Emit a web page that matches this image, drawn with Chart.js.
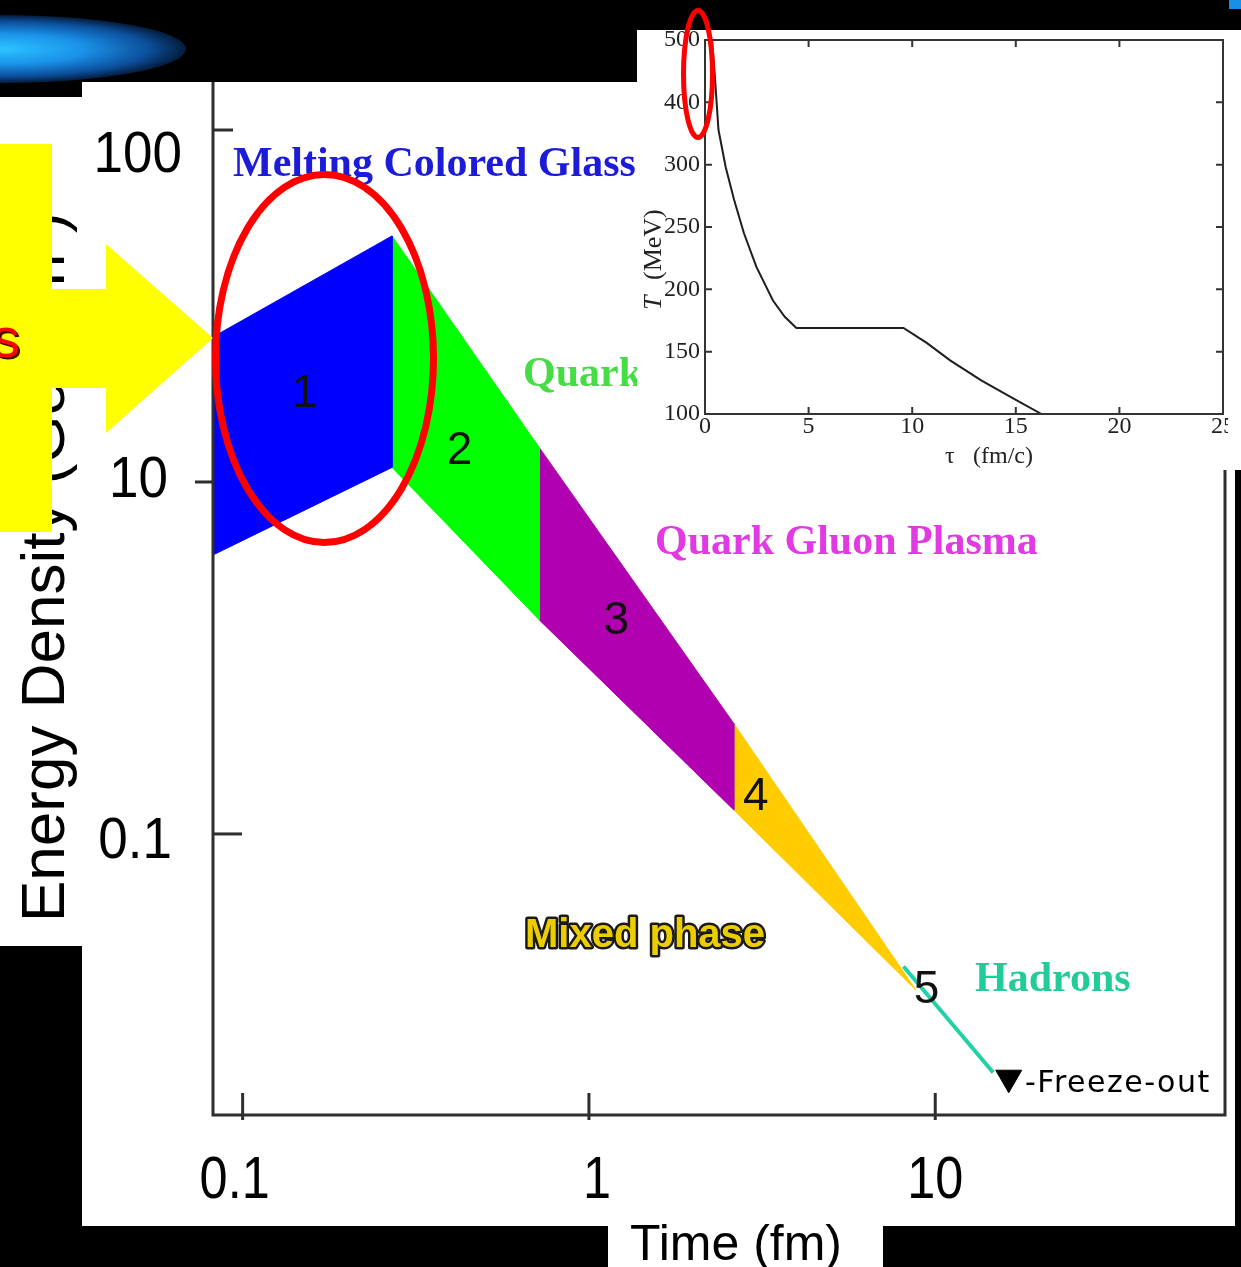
<!DOCTYPE html>
<html>
<head>
<meta charset="utf-8">
<title>Energy density evolution</title>
<script src="https://cdn.jsdelivr.net/npm/chart.js@4.4.1/dist/chart.umd.min.js"></script>
<style>
  html, body { margin: 0; padding: 0; background: #000; width: 1241px; height: 1267px; overflow: hidden; }
  .panel { position: absolute; background: #fff; }
  #main { position: absolute; left: 0; top: 0; }
  #insetBox { position: absolute; left: 637px; top: 30px; width: 604px; height: 440px; background: #fff; }
  #inset { position: absolute; left: 0; top: 0; }
  svg { position: absolute; left: 0; top: 0; pointer-events: none; }
</style>
</head>
<body>
<svg width="1241" height="1267">
  <defs>
    <radialGradient id="glow" cx="0.5" cy="0.5" r="0.5">
      <stop offset="0" stop-color="#2cc4ff"/>
      <stop offset="0.45" stop-color="#1a92e8"/>
      <stop offset="0.8" stop-color="#0c4f9c"/>
      <stop offset="1" stop-color="#041c3c"/>
    </radialGradient>
  </defs>
  <ellipse cx="0" cy="49" rx="186" ry="34" fill="url(#glow)"/>
  <rect x="1229" y="0" width="12" height="9" fill="#1a8fe6"/>
</svg>
<div class="panel" style="left:82px;top:82px;width:1153px;height:1144px"></div>
<div class="panel" style="left:0;top:97px;width:82px;height:849px"></div>
<div class="panel" style="left:608px;top:1226px;width:275px;height:41px"></div>
<canvas id="main" width="1241" height="1267"></canvas>
<div id="insetBox"><canvas id="inset" width="591" height="440"></canvas></div>
<svg width="1241" height="1267">
  <polygon points="0,144 52,144 52,289 106,289 106,244 213,338 106,433 106,388 52,388 52,532 0,532" fill="#ffff00"/>
  <text x="22" y="359" text-anchor="end" font-family="Liberation Sans, Arial, sans-serif" font-size="56" fill="#3a0000">s</text>
  <text x="20" y="357" text-anchor="end" font-family="Liberation Sans, Arial, sans-serif" font-size="56" fill="#ff0000">s</text>
  <ellipse cx="324.5" cy="358.5" rx="109" ry="184" fill="none" stroke="#ff0000" stroke-width="7"/>
  <ellipse cx="698" cy="74" rx="14.5" ry="63.5" fill="none" stroke="#ff0000" stroke-width="5"/>
</svg>
<script>
// ---- Main plot: energy density vs time (log-log) ----
// Band edges at each phase boundary (time in fm)
const phaseLabels  = ['1', '2', '3', '4'];
const boundaryTime = [0.082, 0.27, 0.72, 2.62, 8.8];
const bandUpper    = [25.8, 50, 12.5, 2.06, 0.36];
const bandLower    = [6.2, 11, 4.05, 1.17, 0.36];
const phaseColors  = ['#0000ff', '#00ff00', '#b000b0', '#ffcc00'];

// Hadron gas stage and freeze-out point
const hadronTime    = [8.1, 14.7];
const hadronDensity = [0.42, 0.21];
const freezeTime    = [16.3];
const freezeDensity = [0.203];

// Stage numbers inside the bands
const stageNumbers = ['1', '2', '3', '4', '5'];
const stageTime    = [0.151, 0.423, 1.20, 3.035, 9.44];
const stageDensity = [17.7, 12.2, 4.03, 1.27, 0.36];

// Axis ticks
const timeTicks         = [0.1, 1, 10];
const timeTickLabels    = ['0.1', '1', '10'];
const densityTicks      = [100, 10, 1];
const densityTickLabels = ['100', '10', '0.1'];

// ---- Inset: temperature vs proper time ----
const tau  = [0.34, 0.48, 0.65, 1.0, 1.4, 1.88, 2.48, 3.28, 3.85, 4.41, 9.58, 10.7, 11.83, 13.33, 14.83, 16.24];
const temp = [400, 370, 328, 298, 272, 245, 218, 191, 178, 169, 169, 157, 143, 127, 113, 100];
const tauTicks       = [0, 5, 10, 15, 20, 25];
const tauTickLabels  = ['0', '5', '10', '15', '20', '25'];
const tempTicks      = [100, 150, 200, 250, 300, 350, 400];
const tempTickLabels = ['100', '150', '200', '250', '300', '400', '500'];

const SANS = '"Liberation Sans", Arial, Helvetica, sans-serif';
const SERIF = '"Liberation Serif", "Times New Roman", serif';

function bandDataset(i) {
  const pts = [
    { x: boundaryTime[i],     y: bandUpper[i] },
    { x: boundaryTime[i + 1], y: bandUpper[i + 1] },
    { x: boundaryTime[i + 1], y: bandLower[i + 1] },
    { x: boundaryTime[i],     y: bandLower[i] },
    { x: boundaryTime[i],     y: bandUpper[i] }
  ];
  return {
    label: phaseLabels[i],
    data: pts,
    backgroundColor: phaseColors[i],
    borderColor: phaseColors[i],
    borderWidth: 1,
    pointRadius: 0,
    fill: 'shape',
    tension: 0
  };
}

const mainDecor = {
  id: 'mainDecor',
  afterDatasetsDraw(chart) {
    const { ctx, chartArea: a, scales: { x, y } } = chart;
    ctx.save();

    // stage numbers
    ctx.fillStyle = '#111';
    ctx.font = '46px ' + SANS;
    ctx.textAlign = 'center';
    ctx.textBaseline = 'middle';
    stageNumbers.forEach((s, i) => {
      ctx.fillText(s, x.getPixelForValue(stageTime[i]), y.getPixelForValue(stageDensity[i]));
    });

    // frame: left, bottom and right sides
    ctx.strokeStyle = '#2e2e2e';
    ctx.lineWidth = 3;
    ctx.beginPath();
    ctx.moveTo(a.left, a.top);
    ctx.lineTo(a.left, a.bottom);
    ctx.lineTo(a.right, a.bottom);
    ctx.lineTo(a.right, a.top);
    ctx.stroke();

    // tick marks
    const yMarks = [[0, 20], [-18, 0], [0, 29]];
    densityTicks.forEach((v, i) => {
      const py = y.getPixelForValue(v);
      ctx.beginPath();
      ctx.moveTo(a.left + yMarks[i][0], py);
      ctx.lineTo(a.left + yMarks[i][1], py);
      ctx.stroke();
    });
    timeTicks.forEach(v => {
      const px = x.getPixelForValue(v);
      ctx.beginPath();
      ctx.moveTo(px, a.bottom - 22);
      ctx.lineTo(px, a.bottom + 5);
      ctx.stroke();
    });

    // tick labels
    ctx.fillStyle = '#000';
    ctx.textBaseline = 'alphabetic';
    ctx.textAlign = 'right';
    ctx.font = '57px ' + SANS;
    const yLabelRight = [182, 168, 172];
    const yLabelDrop = [42, 15, 24];
    densityTickLabels.forEach((t, i) => {
      ctx.save();
      ctx.translate(yLabelRight[i], y.getPixelForValue(densityTicks[i]) + yLabelDrop[i]);
      ctx.scale(0.93, 1);
      ctx.fillText(t, 0, 0);
      ctx.restore();
    });
    ctx.textAlign = 'center';
    ctx.font = '60px ' + SANS;
    const xLabelShift = [-8, 8, 0];
    timeTickLabels.forEach((t, i) => {
      ctx.save();
      ctx.translate(x.getPixelForValue(timeTicks[i]) + xLabelShift[i], 1198);
      ctx.scale(0.84, 1);
      ctx.fillText(t, 0, 0);
      ctx.restore();
    });

    // axis titles
    ctx.save();
    ctx.translate(64, 922);
    ctx.rotate(-Math.PI / 2);
    ctx.textAlign = 'left';
    ctx.font = '62px ' + SANS;
    ctx.fillText('Energy Density (GeV/fm\u00b3)', 0, 0);
    ctx.restore();
    ctx.textAlign = 'left';
    ctx.font = '50px ' + SANS;
    ctx.fillText('Time (fm)', 630, 1260);

    // phase names
    ctx.font = 'bold 42px ' + SERIF;
    ctx.fillStyle = '#1c1cd8';
    ctx.fillText('Melting Colored Glass', 233, 176);
    ctx.fillStyle = '#44dd44';
    ctx.fillText('Quark', 523, 386);
    ctx.fillStyle = '#e23ae2';
    ctx.fillText('Quark Gluon Plasma', 655, 554);
    ctx.fillStyle = '#22cc99';
    ctx.fillText('Hadrons', 975, 991);

    ctx.font = 'bold 40px ' + SANS;
    ctx.lineJoin = 'round';
    ctx.lineWidth = 5;
    ctx.strokeStyle = '#1a1a1a';
    ctx.strokeText('Mixed phase', 525, 947);
    ctx.fillStyle = '#ecce00';
    ctx.fillText('Mixed phase', 525, 947);

    ctx.fillStyle = '#000';
    ctx.font = '30px "DejaVu Sans", Verdana, sans-serif';
    if ('letterSpacing' in ctx) ctx.letterSpacing = '1.5px';
    ctx.fillText('-Freeze-out', 1025, 1092);
    ctx.restore();
  }
};

new Chart(document.getElementById('main'), {
  type: 'line',
  data: {
    datasets: [
      ...phaseLabels.map((_, i) => bandDataset(i)),
      {
        label: 'Hadrons',
        data: hadronTime.map((t, i) => ({ x: t, y: hadronDensity[i] })),
        borderColor: '#22d0a8',
        borderWidth: 4,
        pointRadius: 0,
        fill: false
      },
      {
        label: 'Freeze-out',
        data: freezeTime.map((t, i) => ({ x: t, y: freezeDensity[i] })),
        showLine: false,
        pointStyle: 'triangle',
        pointRotation: 180,
        pointRadius: 15,
        backgroundColor: '#000',
        borderColor: '#000',
        fill: false
      }
    ]
  },
  options: {
    responsive: false,
    animation: false,
    layout: { padding: { left: 213, right: 14, top: 82, bottom: 152 } },
    plugins: { legend: { display: false }, tooltip: { enabled: false } },
    scales: {
      x: { type: 'logarithmic', min: 0.08212, max: 68.66, display: false },
      y: { type: 'logarithmic', min: 0.15905, max: 136.9, display: false }
    }
  },
  plugins: [mainDecor]
});

const insetDecor = {
  id: 'insetDecor',
  afterDatasetsDraw(chart) {
    const { ctx, chartArea: a, scales: { x, y } } = chart;
    ctx.save();
    ctx.strokeStyle = '#333';
    ctx.lineWidth = 2;
    ctx.strokeRect(a.left, a.top, a.right - a.left, a.bottom - a.top);
    ctx.beginPath();
    tauTicks.forEach(v => {
      const px = x.getPixelForValue(v);
      ctx.moveTo(px, a.bottom); ctx.lineTo(px, a.bottom - 7);
      ctx.moveTo(px, a.top); ctx.lineTo(px, a.top + 7);
    });
    tempTicks.forEach(v => {
      const py = y.getPixelForValue(v);
      ctx.moveTo(a.left, py); ctx.lineTo(a.left + 7, py);
      ctx.moveTo(a.right, py); ctx.lineTo(a.right - 7, py);
    });
    ctx.stroke();

    ctx.fillStyle = '#222';
    ctx.font = '24px ' + SERIF;
    ctx.textAlign = 'center';
    ctx.textBaseline = 'alphabetic';
    tauTickLabels.forEach((t, i) => ctx.fillText(t, x.getPixelForValue(tauTicks[i]), a.bottom + 19));
    ctx.textAlign = 'right';
    ctx.textBaseline = 'middle';
    tempTickLabels.forEach((t, i) => ctx.fillText(t, a.left - 5, y.getPixelForValue(tempTicks[i])));

    // axis titles
    ctx.textBaseline = 'alphabetic';
    ctx.textAlign = 'left';
    ctx.font = '24px ' + SERIF;
    ctx.fillText('\u03c4', 308, 433);
    ctx.fillText('(fm/c)', 336, 433);
    ctx.save();
    ctx.translate(24, 280);
    ctx.rotate(-Math.PI / 2);
    ctx.font = 'italic 26px ' + SERIF;
    ctx.fillText('T', 0, 0);
    ctx.font = '26px ' + SERIF;
    ctx.fillText('(MeV)', 30, 0);
    ctx.restore();
    ctx.restore();
  }
};

new Chart(document.getElementById('inset'), {
  type: 'line',
  data: {
    datasets: [{
      label: 'T',
      data: tau.map((t, i) => ({ x: t, y: temp[i] })),
      borderColor: '#1e1e1e',
      borderWidth: 2,
      pointRadius: 0,
      tension: 0,
      fill: false
    }]
  },
  options: {
    responsive: false,
    animation: false,
    layout: { padding: { left: 68, right: 5, top: 10, bottom: 56 } },
    plugins: { legend: { display: false }, tooltip: { enabled: false } },
    scales: {
      x: { type: 'linear', min: 0, max: 25, display: false },
      y: { type: 'linear', min: 100, max: 400, display: false }
    }
  },
  plugins: [insetDecor]
});
</script>
</body>
</html>
